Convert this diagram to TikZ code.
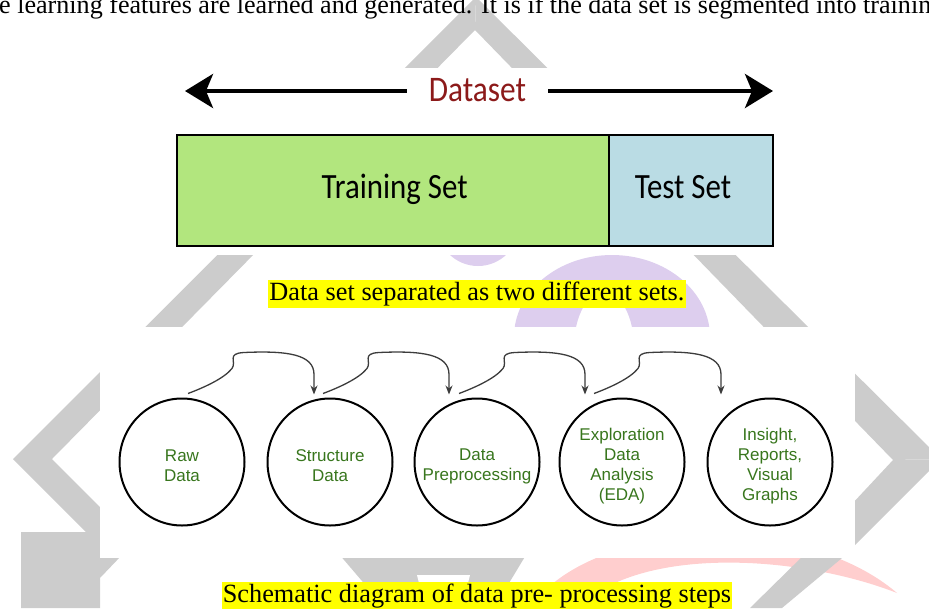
\documentclass[tikz,border=0pt]{standalone}
\usepackage{fontspec}
\setmainfont{Liberation Serif}
\newfontfamily\calfont[FakeStretch=0.87]{Carlito}
\newfontfamily\arialfont{Liberation Sans}
\usetikzlibrary{arrows.meta,calc,shapes.geometric}
\definecolor{wmgray}{RGB}{204,204,204}
\definecolor{wmlav}{RGB}{221,206,238}
\definecolor{wmpink}{RGB}{255,206,206}
\definecolor{trgreen}{RGB}{178,230,126}
\definecolor{tsblue}{RGB}{186,220,228}
\definecolor{dsred}{RGB}{140,26,26}
\definecolor{stepgreen}{RGB}{56,118,29}
\definecolor{hlyellow}{RGB}{255,255,0}
\definecolor{conngray}{RGB}{60,60,60}
\tikzset{
  bigtext/.style={font=\calfont\fontsize{35.5}{40}\selectfont, inner sep=0pt, anchor=base},
  bigarrow/.style={line width=4pt, -{Stealth[length=28pt,width=34pt,inset=7pt]}},
  setbox/.style={draw=black, line width=2pt, inner sep=0pt, minimum height=111pt},
  stepnode/.style={draw=black, line width=2pt, ellipse, minimum width=125pt, minimum height=127pt, inner sep=0pt},
  steptext/.style={font=\arialfont\fontsize{17}{20}\selectfont, text=stepgreen, align=center, inner sep=0pt},
  flowarrow/.style={draw=conngray, line width=1.3pt, -{Stealth[length=9pt,width=7pt]}},
  caption/.style={fill=hlyellow, font=\fontsize{26.3}{30}\selectfont, inner xsep=1pt, inner ysep=0pt, text height=20pt, text depth=8pt}
}
\begin{document}
\begin{tikzpicture}[x=1pt,y=-1pt]
\useasboundingbox (0,0) rectangle (929,608);
\clip (0,0) rectangle (929,608);
% ---------- watermark ----------
\fill[wmpink] (530,608) .. controls (590,520) and (800,510) .. (897,593)
  .. controls (800,555) and (640,545) .. (578,608) -- cycle;
\fill[wmgray] (476,-3) -- (13,459) -- (52,459) -- (475,30) -- cycle;
\fill[wmgray] (476,-3) -- (941,459) -- (893,460) -- (475,30) -- cycle;
\fill[wmgray] (13,459) -- (52,459) -- (126,533) -- (87,533) -- cycle;
\fill[wmgray] (21,532) -- (144,532) -- (100,578) -- (100,608) -- (21,608) -- cycle;
\fill[wmgray] (941,459) -- (842,558) -- (782,608) -- (750,608) -- (809,550) -- (893,460) -- cycle;
\fill[wmgray] (327,540) -- (535,540) -- (494,608) -- (385,608) -- cycle;
\fill[white] (417,575) -- (470,575) -- (462,608) -- (425,608) -- cycle;
\fill[wmlav, even odd rule] (612,337) ellipse [x radius=98pt, y radius=82pt]
  (604,347) ellipse [x radius=30pt, y radius=55pt];
\draw[wmlav, line width=12pt] (478,225) circle [radius=35pt];
% white backgrounds of the two figures
\fill[white] (160,68) rectangle (790,255);
\fill[white] (100,327) rectangle (855,558);
% ---------- top text line ----------
\node[anchor=base west, inner sep=0pt, font=\fontsize{26.1}{30}\selectfont] (toptext) at (-1,13)
  {e learning features are learned and generated. It is if the data set is segmented into training};
% ---------- dataset split ----------
\node[bigtext, font=\calfont\fontsize{36}{40}\selectfont, text=dsred, inner xsep=22pt] (ds) at (477.5,101) {Dataset};
\coordinate (ltip) at (185,91);
\coordinate (rtip) at (773,91);
\draw[bigarrow] (ds.west |- ltip) -- (ltip);
\draw[bigarrow] (ds.east |- rtip) -- (rtip);
\node[setbox, fill=trgreen, minimum width=432pt, anchor=north west] (train) at (176,134) {};
\node[setbox, fill=tsblue, minimum width=164pt, anchor=north west] (test) at (608,134) {};
\node[bigtext] (trainlbl) at (394.7,198.7) {Training Set};
\node[bigtext] (testlbl) at (683,198.7) {Test Set};
\node[caption, anchor=base] (cap1) at (477,300) {Data set separated as two different sets.};
% ---------- processing steps ----------
\node[stepnode] (c1) at (182,462) {};
\node[stepnode] (c2) at (330,462) {};
\node[stepnode] (c3) at (477,462) {};
\node[stepnode] (c4) at (622,462) {};
\node[stepnode] (c5) at (770,462) {};
\node[steptext] (t1) at (182,466) {Raw\\Data};
\node[steptext] (t2) at (330,466) {Structure\\Data};
\node[steptext] (t3) at (477,466) {Data\\Preprocessing};
\node[steptext] (t4) at (622,466) {Exploration\\Data\\Analysis\\(EDA)};
\node[steptext] (t5) at (770,466) {Insight,\\Reports,\\Visual\\Graphs};
\coordinate (s1) at ($(c1.north)+(6,-4)$);
\coordinate (s2) at ($(c2.north)+(-7,-4)$);
\coordinate (s3) at ($(c3.north)+(-18,-4)$);
\coordinate (s4) at ($(c4.north)+(-28,-4)$);
\coordinate (e1) at ($(c2.north)+(-16,-3)$);
\coordinate (e2) at ($(c3.north)+(-28,-3)$);
\coordinate (e3) at ($(c4.north)+(-37,-3)$);
\coordinate (e4) at ($(c5.north)+(-49,-3)$);
\foreach \i in {1,2,3,4}{
  \draw[flowarrow] (s\i) .. controls ($(s\i)+(16,-6)$) and ($(s\i)+(36,-15)$) .. ($(s\i)+(44,-25)$)
    .. controls ($(s\i)+(49,-32)$) and ($(s\i)+(38,-40)$) .. ($(s\i)+(56,-41)$)
    .. controls ($(s\i)+(100,-43)$) and ($(e\i)+(0,-40)$) .. ($(e\i)+(0,-20)$) -- (e\i);
}
\node[caption, anchor=base] (cap2) at (477,602) {Schematic diagram of data pre- processing steps};
\end{tikzpicture}
\end{document}
